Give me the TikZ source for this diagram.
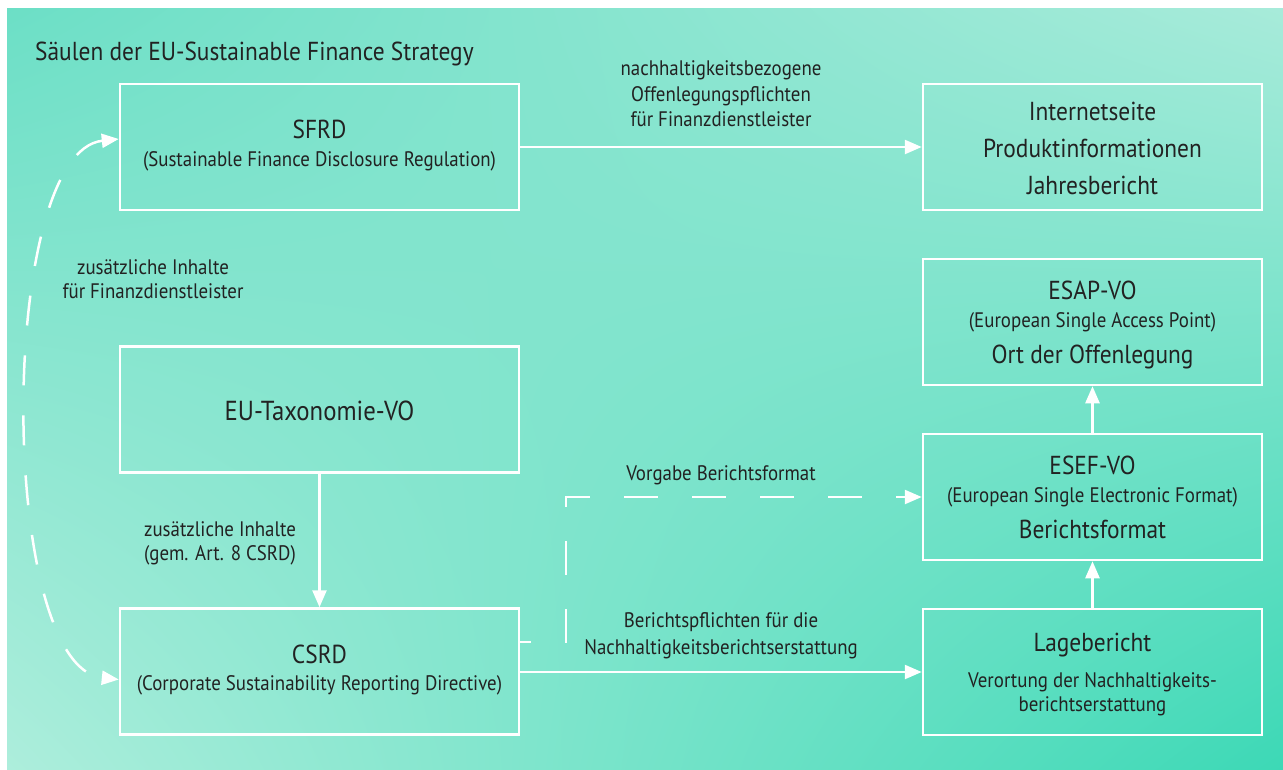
\documentclass[tikz,border=0pt]{standalone}
\usepackage{fontspec}
\setmainfont{PT Sans}[FakeStretch=0.9]
\usetikzlibrary{arrows.meta,shadings}
\definecolor{txt}{HTML}{222222}
\definecolor{tUL}{HTML}{6CDFC6}
\definecolor{tUR}{HTML}{A8EBDA}
\definecolor{tLL}{HTML}{AEEEDC}
\definecolor{tLR}{HTML}{3AD8B5}
\tikzset{
  box/.style={draw=white, line width=2.5pt, minimum width=#1, minimum height=126pt, inner sep=0pt},
  box/.default=399pt,
  bigtxt/.style={anchor=base, text=txt, font=\fontsize{26}{31}\selectfont, inner sep=0pt},
  subtxt/.style={anchor=base, text=txt, font=\fontsize{21}{25}\selectfont, inner sep=0pt},
  titletxt/.style={anchor=base west, text=txt, font=\fontsize{26}{31}\selectfont, inner sep=0pt},
  conn/.style={draw=white, line width=2.5pt, -{Triangle[length=17pt,width=14pt]}},
  dashconn/.style={conn, dash pattern=on 34pt off 34pt, dash phase=23pt},
  curveconn/.style={draw=white, line width=2.5pt, dash pattern=on 30pt off 30pt, {Triangle[length=17pt,width=14pt]}-{Triangle[length=17pt,width=14pt]}}
}
\begin{document}
\begin{tikzpicture}[x=1pt,y=-1pt]
\useasboundingbox (0,0) rectangle (1283,769);
\fill[white] (0,0) rectangle (1283,769);
\fill[tLR!40!tLL] (7,8) rectangle (1292,778);
\shade[upper left=tUL, upper right=tUR, lower left=tLL, lower right=tLR] (7,8) rectangle (1292,778);

\node[titletxt] (title) at (35,60) {Säulen der EU-Sustainable Finance Strategy};

% boxes
\node[box] (sfrd) at (319.5,147) {};
\node[box=339pt] (web) at (1092.5,147) {};
\node[box] (tax) at (319.5,409.5) {};
\node[box=339pt] (esap) at (1092.5,322) {};
\node[box=339pt] (esef) at (1092.5,497) {};
\node[box] (csrd) at (319.5,671.5) {};
\node[box=339pt] (lage) at (1092.5,672) {};

% box texts
\node[bigtxt] (sfrd1) at (319.5,138) {SFRD};
\node[subtxt] (sfrd2) at (319.5,166) {(Sustainable Finance Disclosure Regulation)};
\node[bigtxt] (web1) at (1092.5,120) {Internetseite};
\node[bigtxt] (web2) at (1092.5,157) {Produktinformationen};
\node[bigtxt] (web3) at (1092.5,194) {Jahresbericht};
\node[bigtxt, font=\fontsize{27.5}{32}\selectfont] (tax1) at (319.5,420) {EU-Taxonomie-VO};
\node[bigtxt] (esap1) at (1092.5,299) {ESAP-VO};
\node[subtxt] (esap2) at (1092.5,327) {(European Single Access Point)};
\node[bigtxt] (esap3) at (1092.5,363) {Ort der Offenlegung};
\node[bigtxt] (esef1) at (1092.5,474) {ESEF-VO};
\node[subtxt] (esef2) at (1092.5,502) {(European Single Electronic Format)};
\node[bigtxt] (esef3) at (1092.5,538) {Berichtsformat};
\node[bigtxt] (csrd1) at (319.5,663) {CSRD};
\node[subtxt] (csrd2) at (319.5,690) {(Corporate Sustainability Reporting Directive)};
\node[bigtxt] (lage1) at (1092.5,651) {Lagebericht};
\node[subtxt] (lage2) at (1092.5,687) {Verortung der Nachhaltigkeits-};
\node[subtxt] (lage3) at (1092.5,711) {berichtserstattung};

% connector labels
\node[subtxt] (l1a) at (721,75) {nachhaltigkeitsbezogene};
\node[subtxt] (l1b) at (721,101) {Offenlegungspflichten};
\node[subtxt] (l1c) at (721,126) {für Finanzdienstleister};
\node[subtxt] (l2a) at (153,274) {zusätzliche Inhalte};
\node[subtxt] (l2b) at (153,298) {für Finanzdienstleister};
\node[subtxt] (l3a) at (220,536) {zusätzliche Inhalte};
\node[subtxt] (l3b) at (220,560) {(gem. Art. 8 CSRD)};
\node[subtxt] (l4) at (721,480) {Vorgabe Berichtsformat};
\node[subtxt] (l5a) at (721,627) {Berichtspflichten für die};
\node[subtxt] (l5b) at (721,654) {Nachhaltigkeitsberichtserstattung};

% connectors
\draw[conn] (sfrd.east) -- (web.west);
\draw[conn] (tax.south) -- (csrd.north);
\draw[conn] ([yshift=-0.5pt]csrd.east) -- ([yshift=-0.5pt]csrd.east -| lage.west);
\draw[conn] (lage.north) -- (esef.south);
\draw[conn] (esef.north) -- (esap.south);
\coordinate (c1) at (566,642);
\coordinate (c2) at (566,497);
\draw[dashconn] (csrd.east |- c1) -- (c1) -- (c2) -- (esef.west);
\draw[curveconn] ([yshift=8pt]sfrd.west) .. controls (-3,152) and (-3,667) .. ([yshift=-8pt]csrd.west);
\end{tikzpicture}
\end{document}
